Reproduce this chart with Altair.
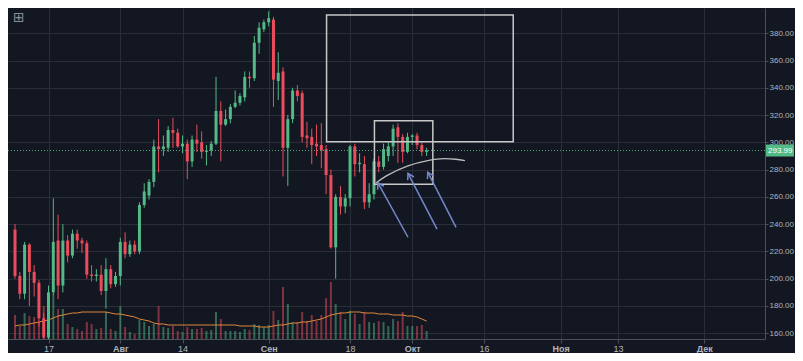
import math
import altair as alt
import pandas as pd

# ---------------- data ----------------
start_date = "2017-07-10"
origin_date = "2017-07-17"

opens = [236, 202, 189, 225, 205, 197, 171, 157, 190, 228, 195, 228, 217, 233, 228, 226, 203, 202, 203, 191, 207, 196,
         202, 227, 218, 225, 220, 254, 261, 271, 297, 295, 296, 309, 307, 297, 299, 286, 302, 300, 293, 294, 299, 323,
         313, 317, 326, 329, 333, 348, 347, 373, 383,
         388, 390, 345, 352, 296, 317, 338, 336, 305, 304, 299, 298, 295, 276, 223, 260, 253, 259, 297, 284, 284, 256,
         262, 286, 282, 290, 297, 311, 304, 293,
         304, 305, 298, 293]
closes = [202, 189, 225, 205, 197, 171, 157, 190, 227, 195, 228, 217, 233, 228, 226, 203, 202, 203, 191, 207, 196, 202,
          227, 218, 225, 220, 254, 264, 271, 297, 295, 297, 309, 307, 297, 299, 286, 302, 299, 293, 294, 299, 323, 313,
          317, 326, 329, 334, 348, 347, 373, 384, 388,
          391, 346, 351, 296, 317, 338, 334, 304, 303, 298, 297, 294, 276, 223, 260, 253, 259, 297, 284, 285, 256, 262,
          286, 282, 295, 297, 310, 304, 293, 304,
          305, 298, 293, 294]
highs = [240, 205, 227, 226, 210, 199, 175, 195, 259, 247, 240, 232, 236, 236, 230, 228, 210, 207, 210, 215, 210, 205,
         230, 234, 228, 228, 256, 270, 273, 302, 317, 305, 312, 318, 310, 305, 302, 305, 313, 308, 298, 301, 348, 330,
         324, 328, 338, 336, 352, 352, 378, 388, 390,
         396, 392, 366, 355, 320, 340, 342, 338, 315, 310, 313, 314, 298, 280, 262, 268, 262, 298, 299, 292, 290, 270,
         288, 290, 299, 300, 313, 314, 306, 307,
         306, 307, 300, 296]
lows = [200, 185, 185, 180, 187, 165, 140, 150, 188, 185, 190, 212, 215, 222, 219, 200, 198, 198, 188, 178, 193, 194,
        195, 215, 216, 218, 218, 252, 258, 267, 278, 290, 293, 296, 296, 292, 273, 282, 293, 288, 283, 290, 298, 286,
        312, 314, 325, 327, 330, 340, 345, 365, 381,
        385, 326, 331, 275, 268, 314, 330, 300, 296, 284, 290, 281, 262, 222, 200, 247, 248, 253, 275, 278, 251, 252,
        258, 278, 280, 286, 290, 285, 285, 292,
        298, 295, 290, 290]
volumes = [24, 13, 26, 23, 22, 17, 33, 40, 45, 30, 30, 15, 12, 10, 8, 17, 15, 10, 11, 27, 10, 8,
           33, 12, 7, 5, 19, 17, 13, 15, 33, 12, 11, 13, 8, 7, 12, 10, 10, 11, 8, 9, 27, 20, 8, 8, 8, 7, 10, 9, 15, 14, 12,
           14, 28, 19, 52, 35, 17, 17, 27, 18, 24, 18, 24, 41, 57, 35, 27, 20, 28, 25, 15, 27, 17, 16, 18, 17, 13, 20,
           18, 27, 13,
           13, 13, 14, 8]
volume_ma = [13, 14, 14, 15, 16, 17, 18, 19, 21, 23, 24, 25, 26, 26, 27, 27, 27, 27, 27, 27, 26, 25,
             25, 24, 23, 22, 20, 19, 18, 16, 15, 15, 14, 14, 14, 14, 14, 14, 14, 14, 14, 14, 14, 14, 14, 14, 14, 13,
             13, 13, 13, 12, 12,
             12, 13, 14, 14, 15, 16, 16, 17, 17, 18, 19, 20, 22, 24, 25, 26, 26, 27, 27, 27, 26, 26, 26, 25, 25, 25,
             24, 24, 24, 23,
             23, 22, 20, 18]
last_price = 293.99

tick_dates = ["2017-07-17", "2017-08-01", "2017-08-14", "2017-09-01", "2017-09-18",
              "2017-10-01", "2017-10-16", "2017-11-01", "2017-11-13", "2017-12-01"]
tick_labels = ["17", "Авг", "14", "Сен", "18", "Окт", "16", "Ноя", "13", "Дек"]
price_ticks = [160, 180, 200, 220, 240, 260, 280, 300, 320, 340, 360, 380, 400]

# drawings (day offset from origin, price)
big_box = {"x1": 58.1, "x2": 97.1, "y1": 393.4, "y2": 300.5}
small_box = {"x1": 68.1, "x2": 80.3, "y1": 315.9, "y2": 269.3}
arc_days = [68.45, 70.99, 75.11, 79.24, 82.68, 85.09, 87.01]
arc_prices = [270.4, 276.1, 282.7, 286.6, 288.0, 287.6, 286.6]
arrow_tip_days = [68.8, 75.11, 79.24]
arrow_tip_prices = [270.4, 277.3, 278.1]
arrow_tail_days = [75.11, 81.18, 85.15]
arrow_tail_prices = [230.4, 236.3, 237.7]

# ---------------- layout / style ----------------
W, H = 757, 331
X_DOMAIN = [-7.42, 148.66]
Y_DOMAIN = [155.8, 398.5]
BG = "#131722"
GRID = "#2a2e39"
UP = "#53b987"
DOWN = "#eb4d5c"
TEXT = "#b2b5be"

origin = pd.Timestamp(origin_date)
dates = pd.date_range(start_date, periods=len(opens), freq="D")
df = pd.DataFrame({
    "day": [(d - origin).days for d in dates],
    "open": opens, "high": highs, "low": lows, "close": closes,
    "volume": volumes, "ma": volume_ma,
})

tick_vals = [(pd.Timestamp(t) - origin).days for t in tick_dates]
label_expr = "".join(f"datum.value == {v} ? '{l}' : " for v, l in zip(tick_vals, tick_labels)) + "''"
month_vals = [v for v, l in zip(tick_vals, tick_labels) if not l.isdigit()]
bold_test = "indexof([" + ",".join(str(v) for v in month_vals) + "], datum.value) >= 0"

xscale = alt.Scale(domain=X_DOMAIN, nice=False, zero=False)
yscale = alt.Scale(domain=Y_DOMAIN, nice=False, zero=False)
xaxis = alt.Axis(values=tick_vals, labelExpr=label_expr, title=None, grid=True, gridColor=GRID,
                 domainColor="#4c505b", tickColor="#4c505b", tickSize=4, labelPadding=1,
                 labelColor=TEXT, labelFontSize=9, labelFont="Liberation Sans",
                 labelFontWeight={"condition": {"test": bold_test, "value": "bold"}, "value": "normal"})
yaxis = alt.Axis(values=price_ticks, format=".2f", orient="right", title=None, grid=True, gridColor=GRID,
                 domainColor="#4c505b", tickColor="#4c505b", tickSize=3, labelPadding=1,
                 labelColor=TEXT, labelFontSize=8, labelFont="Liberation Sans")


def X(field="day"):
    return alt.X(f"{field}:Q", scale=xscale, axis=xaxis)


def Y(field):
    return alt.Y(f"{field}:Q", scale=yscale, axis=yaxis)


color_cond = alt.condition("datum.close >= datum.open", alt.value(UP), alt.value(DOWN))

base = alt.Chart(df)
wicks = base.mark_rule(strokeWidth=1, clip=True).encode(x=X(), y=Y("low"), y2="high:Q", color=color_cond)
bodies = base.mark_bar(size=3, clip=True).encode(x=X(), y=Y("open"), y2="close:Q", color=color_cond)

vscale = alt.Scale(domain=[0, H], nice=False, zero=True)
vol_bars = base.mark_bar(size=2, opacity=0.5).encode(
    x=X(), y=alt.Y("volume:Q", scale=vscale, axis=None), color=color_cond)
vol_ma = base.mark_line(color="#e0883a", strokeWidth=1).encode(
    x=X(), y=alt.Y("ma:Q", scale=vscale, axis=None))

price_df = pd.DataFrame({"p": [last_price]})
price_line = alt.Chart(price_df).mark_rule(color=UP, strokeDash=[1, 2], strokeWidth=1, opacity=0.9).encode(
    y=Y("p"))

boxes_df = pd.DataFrame([big_box, small_box])
boxes = alt.Chart(boxes_df).mark_rect(fillOpacity=0, stroke="#c8c8c8", strokeWidth=1.5).encode(
    x=X("x1"), x2="x2:Q", y=Y("y1"), y2="y2:Q")

arc_df = pd.DataFrame({"day": arc_days, "price": arc_prices, "i": range(len(arc_days))})
arc = alt.Chart(arc_df).mark_line(interpolate="monotone", color="#bdbdbd", strokeWidth=1.3).encode(
    x=X(), y=Y("price"), order="i:Q")

px_day = W / (X_DOMAIN[1] - X_DOMAIN[0])
px_price = H / (Y_DOMAIN[1] - Y_DOMAIN[0])
angles = []
for td, tp, ed, ep in zip(arrow_tip_days, arrow_tip_prices, arrow_tail_days, arrow_tail_prices):
    dx = (ed - td) * px_day
    dy = -(ep - tp) * px_price
    angles.append((-math.degrees(math.atan2(dx, dy))) % 360)
arrows_df = pd.DataFrame({"tx": arrow_tip_days, "ty": arrow_tip_prices,
                          "ex": arrow_tail_days, "ey": arrow_tail_prices, "ang": angles})
ARROW = "#7388cc"
shafts = alt.Chart(arrows_df).mark_rule(color=ARROW, strokeWidth=1.5).encode(
    x=X("tx"), x2="ex:Q", y=Y("ty"), y2="ey:Q")
heads = alt.Chart(arrows_df).mark_point(shape="M-0.55,0.95L0,0L0.55,0.95", filled=False, size=160,
                                        strokeWidth=1.5, color=ARROW, opacity=1).encode(
    x=X("tx"), y=Y("ty"), angle=alt.Angle("ang:Q", scale=None))

half = 6 / px_price
label_df = pd.DataFrame({"p": [last_price], "top": [last_price + half], "bot": [last_price - half],
                         "t": [f"{last_price:.2f}"]})
label_box = alt.Chart(label_df).mark_rect(color=UP).encode(
    x=alt.value(W + 1), x2=alt.value(W + 29), y=Y("top"), y2="bot:Q")
label_text = alt.Chart(label_df).mark_text(align="left", baseline="middle", color="white", fontSize=8,
                                           font="Liberation Sans").encode(
    x=alt.value(W + 3), y=Y("p"), text="t:N")

icon = alt.Chart(pd.DataFrame({"s": ["⊞"]})).mark_text(
    align="left", baseline="middle", color="#8a8d96", fontSize=14, font="DejaVu Sans").encode(
    x=alt.value(5), y=alt.value(10), text="s:N")

vol_layer = alt.layer(vol_bars, vol_ma)
price_layer = alt.layer(wicks, bodies, price_line, boxes, arc, shafts, heads, label_box, label_text, icon)

chart = alt.layer(vol_layer, price_layer).resolve_scale(y="independent").properties(
    width=W, height=H, autosize="none",
    padding={"left": 0, "top": 0, "right": 30, "bottom": 14},
    background=BG,
).configure_view(strokeWidth=0)

chart.save("out.html", embed_options={"renderer": "svg", "actions": False})
